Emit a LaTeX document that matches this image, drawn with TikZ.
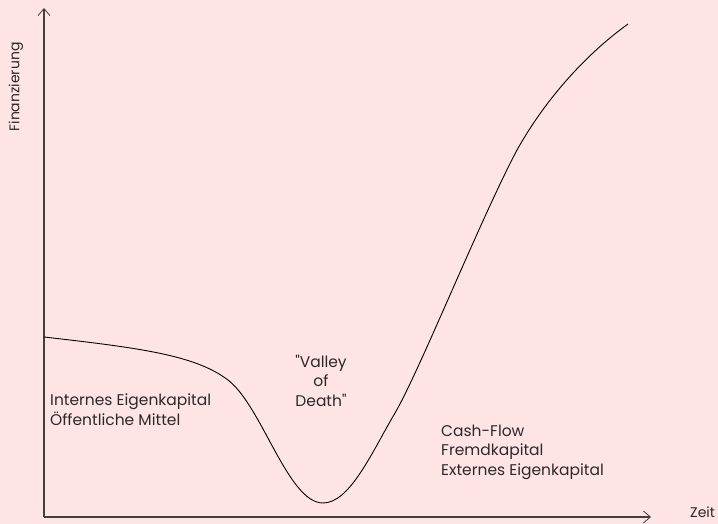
\documentclass[tikz,border=0pt]{standalone}
\usepackage{fontspec}
\setmainfont{Poppins}[Ligatures=TeXOff]
\usetikzlibrary{arrows.meta}
\definecolor{bg}{HTML}{FFE4E6}
\definecolor{txt}{HTML}{2A2A2A}
\begin{document}
\begin{tikzpicture}[x=1pt,y=-1pt,
  axis/.style={draw=black!75, line width=1.1pt, -{Straight Barb[length=7pt,width=12pt,line width=0.8pt]}},
  curve/.style={draw=black, line width=0.9pt},
  lbl/.style={text=txt, font=\fontsize{15.5}{19.5}\selectfont, inner sep=0pt},
  axlbl/.style={text=txt, font=\fontsize{14}{17}\selectfont, inner sep=0pt},
]
\fill[bg] (0,0) rectangle (718,524);
\useasboundingbox (0,0) rectangle (718,524);
\coordinate (O) at (44,517);
\coordinate (Ytop) at (44,8);
\coordinate (Xend) at (651,517);
\draw[axis] (O) -- (Ytop);
\draw[axis] (O) -- (Xend);
\draw[curve] (44,337) .. controls (140,348) and (195,355) .. (228,380)
  .. controls (262,406) and (288,503) .. (323,503)
  .. controls (350,503) and (372,452) .. (395,413)
  .. controls (420,370) and (480,220) .. (517,150)
  .. controls (545,100) and (585,55) .. (628,24);
\node[axlbl, rotate=90] (fin) at (16,87) {Finanzierung};
\node[axlbl, anchor=west] (zeit) at (690,512) {Zeit};
\node[lbl, anchor=west, align=left] (left) at (50,409.5) {Internes Eigenkapital\\Öffentliche Mittel};
\node[lbl, align=center] (vod) at (321,380.5) {"Valley\\of\\Death"};
\node[lbl, anchor=west, align=left] (right) at (441,452) {Cash-Flow\\Fremdkapital\\Externes Eigenkapital};
\end{tikzpicture}
\end{document}
